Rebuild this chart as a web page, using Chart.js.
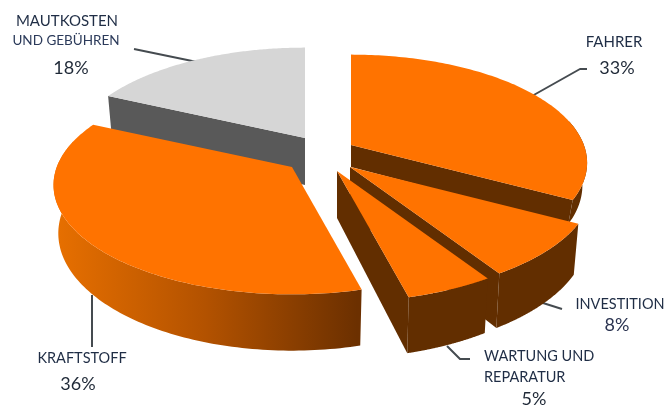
<!DOCTYPE html>
<html><head><meta charset="utf-8">
<style>html,body{margin:0;padding:0;background:#fff}canvas{display:block}</style>
<script src="https://cdn.jsdelivr.net/npm/chart.js@4"></script>
</head><body>
<canvas id="c" width="664" height="405"></canvas>
<script>
const categories = ['FAHRER', 'INVESTITION', 'WARTUNG UND REPARATUR', 'KRAFTSTOFF', 'MAUTKOSTEN UND GEBÜHREN'];
const shares = [33, 8, 5, 36, 18];
const topColors = ['#FF7300', '#FF7300', '#FF7300', '#FF7300', '#D6D6D6'];
const wallColors = ['#622E00', '#622E00', '#622E00', null, '#595959'];
const apexes = [[351,145],[350,167],[337,171],[292,167],[305,138]];
const sliceScale = [1, 1.03, 1.04, 1.01, 1];
const sliceDepth = [22, 47, 47, 47, 47];
const drawOrder = [4,0,3,1,2];

const K = 0.165, RX = 1.15, RY = 0.52, CONVERGE = 0.98;

function projector(el, i){
  const apex = apexes[i], rx = el.outerRadius*RX*sliceScale[i], ry = el.outerRadius*RY*sliceScale[i], d = sliceDepth[i];
  return function(theta, r, low){
    const u = Math.cos(theta)*r, vd = Math.sin(theta)*r, s = 1/(1-K*vd);
    return [apex[0]+rx*u*s*(low?CONVERGE:1), apex[1]+ry*vd*s+(low?d*s:0)];
  };
}
function poly(ctx,pts,fill){
  ctx.fillStyle=fill;
  ctx.beginPath();pts.forEach((p,i)=>i?ctx.lineTo(p[0],p[1]):ctx.moveTo(p[0],p[1]));ctx.closePath();ctx.fill();
}
const leaders = [
  [[532,96],[580,69],[587,69]],
  [[543,303],[562,309]],
  [[447,346],[460,359],[470,359]],
  [[92,295],[92,347]],
  [[134,49],[197,62]]
];
const texts = [
  ['FAHRER',614,47,15,'#1F2D45','center'],['33%',617,74,18,'#1F2937','center'],
  ['INVESTITION',620,309,14.5,'#1F2D45','center'],['8%',617,331,18,'#2A3350','center'],
  ['WARTUNG UND',484,361,14.5,'#1F2D45','left'],['REPARATUR',484,382,14.5,'#1F2D45','left'],['5%',534,405,18,'#1F2937','center'],
  ['KRAFTSTOFF',82,363,14.5,'#1F2D45','center'],['36%',78,390,18,'#1F2937','center'],
  ['MAUTKOSTEN',67,26,15,'#1F2D45','center'],['UND GEBÜHREN',66,45,13.5,'#2B3A5A','center'],['18%',71,74,18,'#1F2937','center']
];
const pie3d = {
  id:'pie3d',
  beforeDatasetsDraw(chart){
    const ctx = chart.ctx, arcs = chart.getDatasetMeta(0).data;
    ctx.save();
    ctx.strokeStyle='#454B50'; ctx.lineWidth=2; ctx.lineJoin='round';
    leaders.forEach(l=>{ctx.beginPath();l.forEach((p,i)=>i?ctx.lineTo(p[0],p[1]):ctx.moveTo(p[0],p[1]));ctx.stroke();});
    const grad = ctx.createLinearGradient(53,0,357,0);
    grad.addColorStop(0,'#E87000');grad.addColorStop(0.5,'#B35200');grad.addColorStop(1,'#6C3000');
    drawOrder.forEach(i=>{
      const el = arcs[i], P = projector(el, i);
      const a0 = el.startAngle, a1 = el.endAngle, wall = wallColors[i]||grad, N = 120;
      // radial walls facing the viewer
      if (Math.sin(a0-Math.PI/2)>0.01) poly(ctx,[P(a0,0),P(a0,1),P(a0,1,true),P(a0,0,true)],wall);
      if (Math.sin(a1+Math.PI/2)>0.01) poly(ctx,[P(a1,0),P(a1,1),P(a1,1,true),P(a1,0,true)],wall);
      // outer wall: one polygon along the visible part of the rim
      const upper=[], lower=[];
      for(let k=0;k<=N;k++){
        const t=a0+(a1-a0)*k/N;
        if(Math.sin(t)>-0.25){upper.push(P(t,1));lower.push(P(t,1,true));}
      }
      if(upper.length) poly(ctx,upper.concat(lower.reverse()),wall);
      // top face
      const top=[P(a0,0)];
      for(let k=0;k<=N;k++) top.push(P(a0+(a1-a0)*k/N,1));
      poly(ctx,top,topColors[i]);
    });
    ctx.textBaseline='alphabetic';
    texts.forEach(t=>{ctx.font=t[3]+'px Lato';ctx.fillStyle=t[4];ctx.textAlign=t[5];ctx.fillText(t[0],t[1],t[2]);});
    ctx.restore();
    return false;
  }
};
new Chart(document.getElementById('c'),{
  type:'pie',
  data:{labels:categories,datasets:[{data:shares,backgroundColor:topColors,borderWidth:0}]},
  options:{responsive:false,animation:false,plugins:{legend:{display:false},tooltip:{enabled:false}}},
  plugins:[pie3d]
});
</script>
</body></html>
